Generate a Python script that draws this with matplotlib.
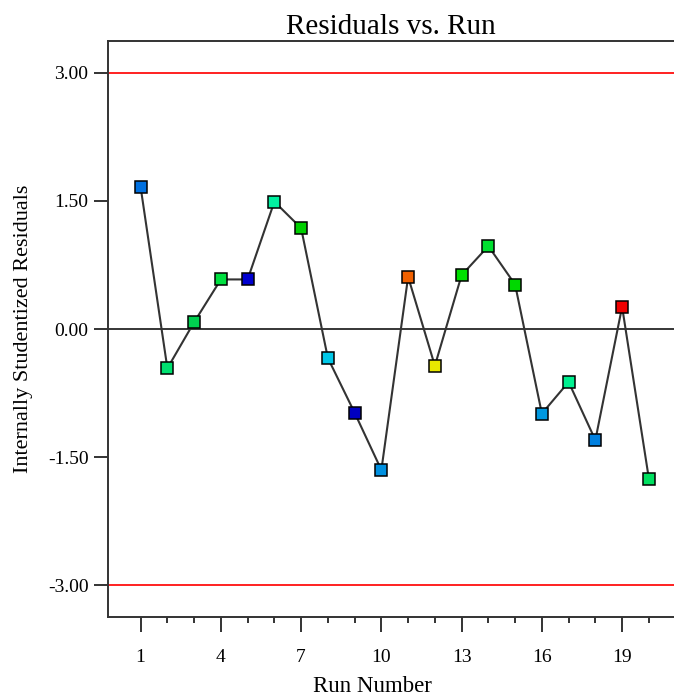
import matplotlib
matplotlib.use("Agg")
import matplotlib.pyplot as plt
from matplotlib.ticker import FixedLocator

# residuals, one per run
runs = list(range(1, 21))
residuals = [1.66, -0.46, 0.08, 0.58, 0.58, 1.49, 1.18, -0.34, -0.98, -1.65,
             0.61, -0.43, 0.63, 0.97, 0.52, -0.99, -0.62, -1.30, 0.26, -1.75]
point_colors = ["#0070E0", "#00E070", "#00D050", "#00E040", "#0000D0",
                "#00F0A0", "#00D000", "#00C8E8", "#0000C0", "#0090E0",
                "#F06000", "#E8E800", "#00E000", "#00E030", "#00D800",
                "#0098E0", "#00F090", "#0080E0", "#F00000", "#00E060"]
limits = [3.0, -3.0]
y_ticks = [-3.0, -1.5, 0.0, 1.5, 3.0]
x_ticks = [1, 4, 7, 10, 13, 16, 19]
x_minor = [r for r in runs if r not in x_ticks]

plt.rcParams["font.family"] = ["Liberation Serif", "DejaVu Serif"]

_AX = "#333333"

fig = plt.figure(figsize=(6.74, 7.0), dpi=100)
ax = fig.add_axes([108 / 674, 1 - 617 / 700, 1 - 108 / 674, (617 - 41) / 700])

# control limits and zero line
for lim in limits:
    ax.axhline(lim, color="#FF2020", linewidth=1.4, zorder=1)
ax.axhline(0, color="black", linewidth=1.1, zorder=1)

ax.plot(runs, residuals, color=_AX, linewidth=1.5, zorder=2)
for r, v, c in zip(runs, residuals, point_colors):
    ax.plot(r, v, marker="s", markersize=8, markerfacecolor=c,
            markeredgecolor="black", markeredgewidth=1.1, linestyle="none",
            zorder=3)

ax.set_xlim(-0.22, 20.94)
ax.set_ylim(-3.37, 3.37)
ax.set_xticks(x_ticks)
ax.xaxis.set_minor_locator(FixedLocator(x_minor))
ax.set_yticks(y_ticks)
ax.set_yticklabels([f"{t:.2f}" for t in y_ticks])

ax.tick_params(axis="x", which="major", length=11, width=1.4, color=_AX,
               labelsize=14, pad=12)
ax.tick_params(axis="x", which="minor", length=4.5, width=1.4, color=_AX)
ax.tick_params(axis="y", which="major", length=10, width=1.4, color=_AX,
               labelsize=14, pad=4)

for side in ("left", "bottom", "top"):
    ax.spines[side].set_color(_AX)
    ax.spines[side].set_linewidth(1.4)
ax.spines["right"].set_visible(False)

ax.set_title("Residuals vs. Run", fontsize=21, pad=5)
ax.set_xlabel("Run Number", fontsize=16.5)
ax.xaxis.set_label_coords(0.468, -0.103)
ax.set_ylabel("Internally Studentized Residuals", fontsize=16, labelpad=11)

fig.savefig("out.png", dpi=100, facecolor="white")
